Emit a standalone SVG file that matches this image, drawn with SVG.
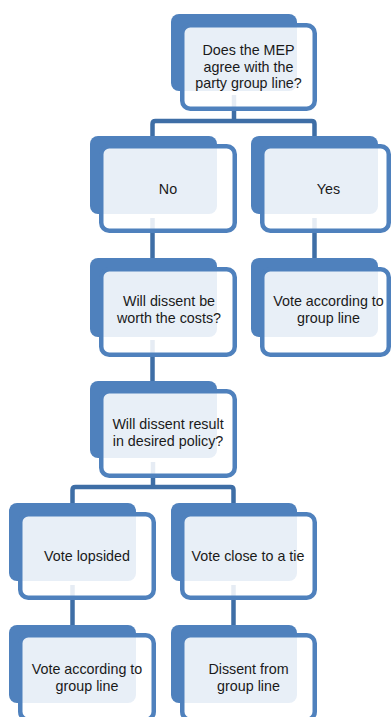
<svg xmlns="http://www.w3.org/2000/svg" width="392" height="717" viewBox="0 0 392 717">
<style>
.back{fill:#4F81BD}
.front{fill:#FFFFFF;fill-opacity:0.87;stroke:#4F81BD;stroke-width:4.5}
.conn{fill:none;stroke:#3E6EA6;stroke-width:4.5;stroke-linejoin:round}
text{font-family:"Liberation Sans",Arial,sans-serif;font-size:14.3px;fill:#1a1a1a;text-anchor:middle}
</style>
<rect width="392" height="717" fill="#FFFFFF"/>
<g id="connectors">
<path class="conn" d="M234 95 V121"/>
<path class="conn" d="M152.5 140 V124 Q152.5 121 155.5 121 H311.5 Q314.5 121 314.5 124 V140"/>
<path class="conn" d="M152.5 218 V262"/>
<path class="conn" d="M314.5 218 V262"/>
<path class="conn" d="M152.5 340 V385"/>
<path class="conn" d="M153 462 V487"/>
<path class="conn" d="M72.5 506 V490 Q72.5 487 75.5 487 H230.5 Q233.5 487 233.5 490 V506"/>
<path class="conn" d="M72.5 585 V628"/>
<path class="conn" d="M233.5 585 V628"/>
</g>
<g id="n1">
<rect class="back" x="171" y="14" width="126" height="77" rx="8"/>
<rect class="front" x="182.25" y="25.25" width="132.5" height="83.5" rx="8"/>
<text x="248.5" y="55">Does the MEP</text>
<text x="248.5" y="71.5">agree with the</text>
<text x="248.5" y="88">party group line?</text>
</g>
<g id="n2">
<rect class="back" x="90" y="136" width="127" height="78" rx="8"/>
<rect class="front" x="101.25" y="146.25" width="133.5" height="84.5" rx="8"/>
<text x="168" y="194">No</text>
</g>
<g id="n3">
<rect class="back" x="251" y="136" width="127" height="78" rx="8"/>
<rect class="front" x="262.25" y="146.25" width="126.5" height="84.5" rx="8"/>
<text x="328.5" y="194">Yes</text>
</g>
<g id="n4">
<rect class="back" x="90" y="258" width="127" height="79" rx="8"/>
<rect class="front" x="101.25" y="269.25" width="133.5" height="85.5" rx="8"/>
<text x="169" y="305.5">Will dissent be</text>
<text x="169" y="323">worth the costs?</text>
</g>
<g id="n5">
<rect class="back" x="251" y="258" width="127" height="79" rx="8"/>
<rect class="front" x="262.25" y="269.25" width="126.5" height="85.5" rx="8"/>
<text x="328.5" y="305.5">Vote according to</text>
<text x="328.5" y="323">group line</text>
</g>
<g id="n6">
<rect class="back" x="90" y="381" width="127" height="77" rx="8"/>
<rect class="front" x="101.25" y="391.25" width="133.5" height="84.5" rx="8"/>
<text x="168" y="428.5">Will dissent result</text>
<text x="168" y="446">in desired policy?</text>
</g>
<g id="n7">
<rect class="back" x="9" y="503" width="127" height="78" rx="8"/>
<rect class="front" x="20.25" y="514.25" width="133.5" height="83.5" rx="8"/>
<text x="87" y="560.5">Vote lopsided</text>
</g>
<g id="n8">
<rect class="back" x="171" y="503" width="126" height="78" rx="8"/>
<rect class="front" x="182.25" y="514.25" width="132.5" height="83.5" rx="8"/>
<text x="248" y="560.5">Vote close to a tie</text>
</g>
<g id="n9">
<rect class="back" x="9" y="625" width="127" height="78" rx="8"/>
<rect class="front" x="20.25" y="635.25" width="133.5" height="84.5" rx="8"/>
<text x="87" y="674">Vote according to</text>
<text x="87" y="691">group line</text>
</g>
<g id="n10">
<rect class="back" x="171" y="625" width="126" height="78" rx="8"/>
<rect class="front" x="182.25" y="635.25" width="132.5" height="84.5" rx="8"/>
<text x="248.5" y="674">Dissent from</text>
<text x="248.5" y="691">group line</text>
</g>
</svg>
